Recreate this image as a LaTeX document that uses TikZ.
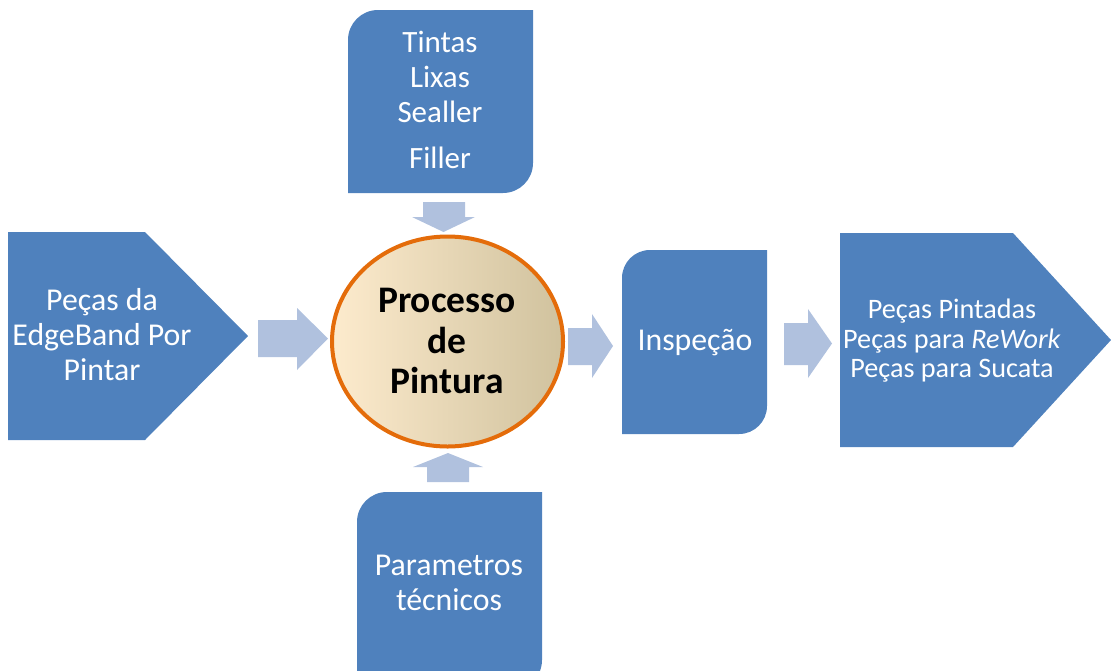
\documentclass[tikz,border=0pt]{standalone}
\usepackage{fontspec}
\setmainfont{Carlito}
\usetikzlibrary{shapes.geometric}
\definecolor{boxblue}{HTML}{4F81BD}
\definecolor{arrowblue}{HTML}{B0C1DE}
\definecolor{ringorange}{HTML}{E46C0A}
\definecolor{creamL}{HTML}{FDEBCD}
\definecolor{creamM}{HTML}{EFE7D3}
\definecolor{creamR}{HTML}{D0C29E}
\begin{document}
\begin{tikzpicture}[x=1pt,y=-1pt,
  block/.style={fill=boxblue},
  flowarrow/.style={fill=arrowblue},
  lbl/.style={text=white,anchor=base,inner sep=0pt,font=\fontsize{31.8}{35}\selectfont},
  lblsmall/.style={lbl,font=\fontsize{28.2}{30}\selectfont},
  lblbold/.style={text=black,anchor=base,inner sep=0pt,font=\fontsize{37.5}{41}\selectfont\bfseries}]
\useasboundingbox (0,0) rectangle (1111,670);
\clip (0,0) rectangle (1111,670);

% input pentagon
\fill[block] (8,232) -- (145,232) -- (248,336) -- (145,440) -- (8,440) -- cycle;
\node[lbl] (in1) at (102,310) {Peças da};
\node[lbl] (in2) at (102,345) {EdgeBand Por};
\node[lbl] (in3) at (102,380) {Pintar};

% materials box (top)
\fill[block] (348,193) -- (348,40) .. controls (348,23.4) and (361.4,10) .. (378,10)
  -- (533,10) -- (533,163) .. controls (533,179.6) and (519.6,193) .. (503,193) -- cycle;
\node[lbl,font=\fontsize{31}{35}\selectfont] (mat1) at (440,52) {Tintas};
\node[lbl,font=\fontsize{31}{35}\selectfont] (mat2) at (440,87) {Lixas};
\node[lbl,font=\fontsize{31}{35}\selectfont] (mat3) at (440,122) {Sealler};
\node[lbl,font=\fontsize{31}{35}\selectfont] (mat4) at (440,168) {Filler};

% parameters box (bottom)
\fill[block] (357,690) -- (357,522) .. controls (357,505.4) and (370.4,492) .. (387,492)
  -- (542,492) -- (542,660) .. controls (542,676.6) and (528.6,690) .. (512,690) -- cycle;
\node[lbl] (par1) at (449,575) {Parametros};
\node[lbl] (par2) at (449,610) {técnicos};

% inspection box
\fill[block] (622,434) -- (622,278) .. controls (622,262.5) and (634.5,250) .. (650,250)
  -- (767,250) -- (767,406) .. controls (767,421.5) and (754.5,434) .. (739,434) -- cycle;
\node[lbl] (insp) at (695,350) {Inspeção};

% output pentagon
\fill[block] (840,233) -- (1013,233) -- (1111,340) -- (1013,447) -- (840,447) -- cycle;
\node[lblsmall] (out1) at (952,318) {Peças Pintadas};
\node[lblsmall] (out2) at (952,348) {Peças para \textit{ReWork}};
\node[lblsmall] (out3) at (952,377) {Peças para Sucata};

% painting process
\node[ellipse, draw=ringorange, line width=4pt, minimum width=231pt, minimum height=210pt,
  left color=creamL, middle color=creamM, right color=creamR] (proc) at (447.5,341.5) {};
\node[lblbold] (proc1) at (447,312) {Processo};
\node[lblbold] (proc2) at (447,353) {de};
\node[lblbold] (proc3) at (447,393) {Pintura};

% block arrows
\fill[flowarrow] (258,320) -- (297,320) -- (297,308) -- (328,338.5) -- (297,370) -- (297,357) -- (258,357) -- cycle;
\fill[flowarrow] (568,328) -- (592,328) -- (592,314) -- (613,346) -- (592,378) -- (592,365) -- (568,365) -- cycle;
\fill[flowarrow] (784,323) -- (808,323) -- (808,309) -- (832,343.5) -- (808,378) -- (808,365) -- (784,365) -- cycle;
\fill[flowarrow] (423,202) -- (465,202) -- (465,217) -- (475,217) -- (443.5,232) -- (412,217) -- (423,217) -- cycle;
\fill[flowarrow] (427,482) -- (469,482) -- (469,467) -- (483,467) -- (448,453) -- (413,467) -- (427,467) -- cycle;
\end{tikzpicture}
\end{document}
